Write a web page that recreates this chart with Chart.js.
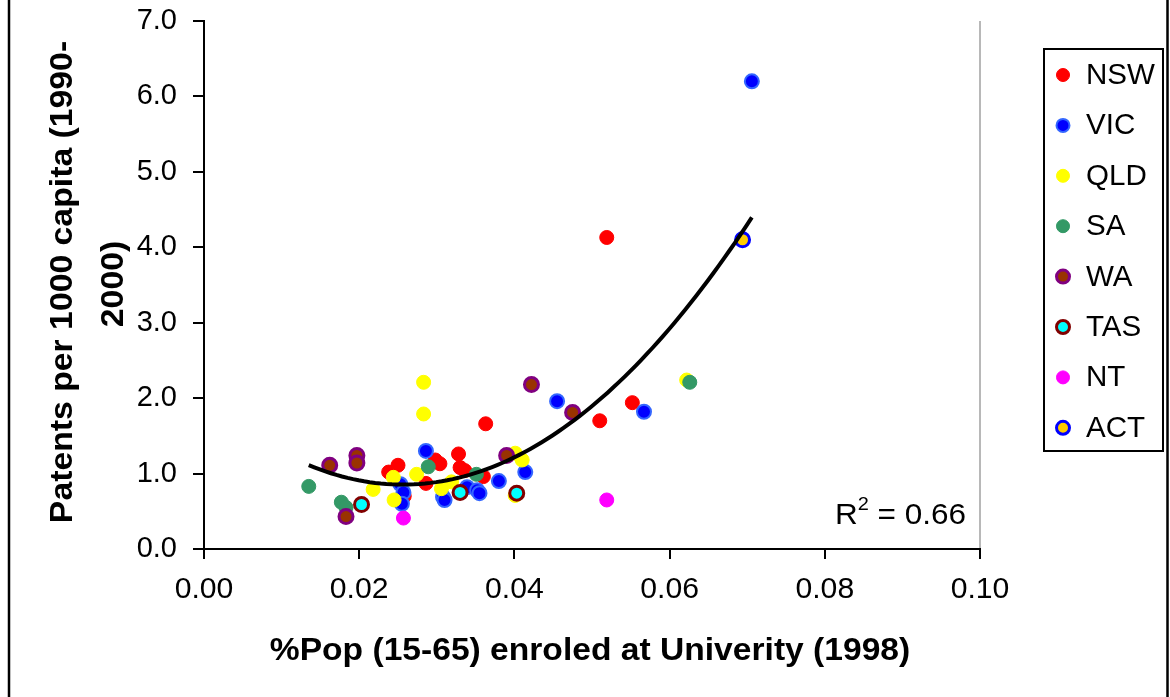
<!DOCTYPE html>
<html>
<head>
<meta charset="utf-8">
<title>Patents vs university enrolment</title>
<script src="https://cdn.jsdelivr.net/npm/chart.js@4.4.1/dist/chart.umd.min.js"></script>
<style>
  html, body { margin: 0; padding: 0; background: #fff; }
  #wrap { width: 1170px; height: 697px; }
</style>
</head>
<body>
<div id="wrap"><canvas id="chart" width="1170" height="697"></canvas></div>
<script>
// ---- data: % of pop (15-65) at university vs patents per 1000 ----
const states = ['NSW', 'VIC', 'QLD', 'SA', 'WA', 'TAS', 'NT', 'ACT'];

const nswX = [0.0519, 0.0552, 0.0510, 0.0363, 0.0328, 0.0298, 0.0304, 0.0330, 0.0336, 0.0360, 0.0286, 0.0238, 0.0250, 0.0258];
const nswY = [4.13, 1.94, 1.70, 1.66, 1.26, 1.18, 1.13, 1.08, 1.04, 0.96, 0.87, 1.02, 1.11, 0.70];
const vicX = [0.0706, 0.0567, 0.0455, 0.0414, 0.0380, 0.0286, 0.0339, 0.0352, 0.0355, 0.0308, 0.0310, 0.0253, 0.0257, 0.0255];
const vicY = [6.20, 1.82, 1.96, 1.02, 0.90, 1.30, 0.82, 0.78, 0.74, 0.69, 0.65, 0.86, 0.75, 0.60];
const qldX = [0.0283, 0.0283, 0.0274, 0.0244, 0.0218, 0.0245, 0.0306, 0.0319, 0.0401, 0.0410, 0.0401, 0.0622];
const qldY = [2.21, 1.79, 0.99, 0.95, 0.79, 0.65, 0.80, 0.89, 1.27, 1.18, 0.71, 2.24];
const saX = [0.0135, 0.0177, 0.0183, 0.0289, 0.0351, 0.0626];
const saY = [0.83, 0.62, 0.55, 1.09, 0.99, 2.21];
const waX = [0.0162, 0.0197, 0.0197, 0.0183, 0.0390, 0.0422, 0.0475];
const waY = [1.11, 1.24, 1.14, 0.43, 1.24, 2.18, 1.81];
const tasX = [0.0203, 0.0330, 0.0403];
const tasY = [0.59, 0.75, 0.74];
const ntX = [0.0257, 0.0519];
const ntY = [0.41, 0.65];
const actX = [0.0694];
const actY = [4.10];

const xTickLabels = ['0.00', '0.02', '0.04', '0.06', '0.08', '0.10'];
const yTickLabels = ['0.0', '1.0', '2.0', '3.0', '4.0', '5.0', '6.0', '7.0'];
const rSquaredText = '0.66';

// marker colours per state: fill / outline
const fills   = ['#ff0000', '#0000ff', '#ffff00', '#339966', '#993300', '#00ffff', '#ff00ff', '#ffcc00'];
const strokes = ['#ff0000', '#3366ff', '#ffff00', '#339966', '#800080', '#800000', '#ff00ff', '#0000ff'];
const strokeW = [1, 2, 1, 1, 3, 3, 1, 3];

const seriesX = [nswX, vicX, qldX, saX, waX, tasX, ntX, actX];
const seriesY = [nswY, vicY, qldY, saY, waY, tasY, ntY, actY];

// ============ polynomial (order 2) trend over all points ============
function quadFit(xs, ys) {
  let n = xs.length, s1 = 0, s2 = 0, s3 = 0, s4 = 0, t0 = 0, t1 = 0, t2 = 0;
  for (let i = 0; i < n; i++) {
    const x = xs[i], y = ys[i];
    s1 += x; s2 += x * x; s3 += x * x * x; s4 += x * x * x * x;
    t0 += y; t1 += x * y; t2 += x * x * y;
  }
  const m = [[n, s1, s2], [s1, s2, s3], [s2, s3, s4]];
  const r = [t0, t1, t2];
  const det = a => a[0][0] * (a[1][1] * a[2][2] - a[1][2] * a[2][1])
                 - a[0][1] * (a[1][0] * a[2][2] - a[1][2] * a[2][0])
                 + a[0][2] * (a[1][0] * a[2][1] - a[1][1] * a[2][0]);
  const d = det(m);
  const coef = [0, 1, 2].map(c => det(m.map((row, i) => row.map((v, j) => (j === c ? r[i] : v)))) / d);
  return coef; // a + b x + c x^2
}

const allX = [].concat(...seriesX);
const allY = [].concat(...seriesY);
const fit = quadFit(allX, allY);
const xMin = Math.min(...allX), xMax = Math.max(...allX);
const trendPts = [];
for (let i = 0; i <= 80; i++) {
  const x = xMin + (xMax - xMin) * i / 80;
  trendPts.push({ x: x, y: fit[0] + fit[1] * x + fit[2] * x * x });
}

const datasets = states.map((s, i) => ({
  label: s,
  data: seriesX[i].map((x, j) => ({ x: x, y: seriesY[i][j] })),
  backgroundColor: fills[i],
  borderColor: strokes[i],
  borderWidth: strokeW[i],
  pointRadius: 7,
  pointHoverRadius: 7,
  order: states.length - i
}));
datasets.push({
  label: 'trend',
  data: trendPts,
  showLine: true,
  borderColor: '#000',
  borderWidth: 4,
  pointRadius: 0,
  fill: false,
  order: 0
});

// text here runs slightly wide, so stretch it a little along the baseline
function wideText(ctx, text, x, y, opts) {
  ctx.save();
  ctx.translate(x, y);
  if (opts.rotate) ctx.rotate(opts.rotate);
  ctx.scale(opts.k, 1);
  ctx.font = opts.font;
  ctx.fillStyle = '#000';
  ctx.textAlign = opts.align || 'left';
  ctx.textBaseline = opts.baseline || 'middle';
  ctx.fillText(text, 0, 0);
  ctx.restore();
}

const FAM = '"Liberation Sans", Arial, sans-serif';
const REG = '29px ' + FAM;
const BOLD = 'bold 32px ' + FAM;

const decorations = {
  id: 'decorations',
  beforeDraw(chart) {
    const ctx = chart.ctx;
    ctx.save();
    ctx.fillStyle = '#fff';
    ctx.fillRect(0, 0, chart.width, chart.height);
    // outer frame sides
    ctx.strokeStyle = '#000';
    ctx.lineWidth = 2.5;
    ctx.beginPath();
    ctx.moveTo(9, 0); ctx.lineTo(9, chart.height);
    ctx.moveTo(1167.5, 0); ctx.lineTo(1167.5, chart.height);
    ctx.stroke();
    // plot area right edge
    const a = chart.chartArea;
    ctx.strokeStyle = '#a0a0a0';
    ctx.lineWidth = 1.5;
    ctx.beginPath();
    ctx.moveTo(a.right, a.top); ctx.lineTo(a.right, a.bottom);
    ctx.stroke();
    ctx.restore();
  },
  afterDraw(chart) {
    const ctx = chart.ctx;
    const xs = chart.scales.x, ys = chart.scales.y;

    // tick labels
    xs.ticks.forEach((t, i) => {
      wideText(ctx, xTickLabels[i], xs.getPixelForValue(t.value), 590, { k: 1.04, font: REG, align: 'center' });
    });
    ys.ticks.forEach((t, i) => {
      wideText(ctx, yTickLabels[i], 177, ys.getPixelForValue(t.value), { k: 1.0, font: REG, align: 'right' });
    });

    // axis titles
    wideText(ctx, '%Pop (15-65) enroled at Univerity (1998)', 590, 651, { k: 1.05, font: BOLD, align: 'center' });
    wideText(ctx, 'Patents per 1000 capita (1990-', 63, 282, { k: 1.055, font: BOLD, align: 'center', rotate: -Math.PI / 2 });
    wideText(ctx, '2000)', 114, 284, { k: 1.055, font: BOLD, align: 'center', rotate: -Math.PI / 2 });

    // R squared, right aligned against the plot edge
    const rFont = '30px ' + FAM, supFont = '19px ' + FAM;
    ctx.save();
    ctx.font = rFont;
    const tail = ' = ' + rSquaredText;
    const wTail = ctx.measureText(tail).width * 1.05;
    const wR = ctx.measureText('R').width * 1.05;
    ctx.font = supFont;
    const wSup = ctx.measureText('2').width * 1.05;
    ctx.restore();
    const rEnd = 966;
    wideText(ctx, tail, rEnd - wTail, 516, { k: 1.05, font: rFont });
    wideText(ctx, '2', rEnd - wTail - wSup, 505, { k: 1.05, font: supFont });
    wideText(ctx, 'R', rEnd - wTail - wSup - wR, 516, { k: 1.05, font: rFont });

    // legend box
    ctx.save();
    ctx.strokeStyle = '#000';
    ctx.lineWidth = 2;
    ctx.strokeRect(1044, 49, 119, 402);
    states.forEach((s, i) => {
      const y = 75 + i * 50.4;
      ctx.beginPath();
      ctx.arc(1063, y, 6.5, 0, Math.PI * 2);
      ctx.fillStyle = fills[i];
      ctx.fill();
      ctx.strokeStyle = strokes[i];
      ctx.lineWidth = strokeW[i];
      ctx.stroke();
    });
    ctx.restore();
    states.forEach((s, i) => {
      wideText(ctx, s, 1086, 76 + i * 50.4, { k: 1.02, font: REG });
    });
  }
};

new Chart(document.getElementById('chart'), {
  type: 'scatter',
  data: { datasets: datasets },
  options: {
    responsive: false,
    animation: false,
    devicePixelRatio: 1,
    layout: { padding: { left: 0, top: 21, right: 190, bottom: 0 } },
    plugins: { legend: { display: false }, tooltip: { enabled: false } },
    scales: {
      x: {
        type: 'linear', min: 0, max: 0.1,
        ticks: { stepSize: 0.02, display: false },
        grid: { drawOnChartArea: false, tickLength: 10, color: '#000', lineWidth: 2 },
        border: { color: '#000', width: 2 },
        afterFit: s => { s.height = 148; }
      },
      y: {
        min: 0, max: 7,
        ticks: { stepSize: 1, display: false },
        grid: { drawOnChartArea: false, tickLength: 11, color: '#000', lineWidth: 2 },
        border: { color: '#000', width: 2 },
        afterFit: s => { s.width = 204; }
      }
    }
  },
  plugins: [decorations]
});
</script>
</body>
</html>
